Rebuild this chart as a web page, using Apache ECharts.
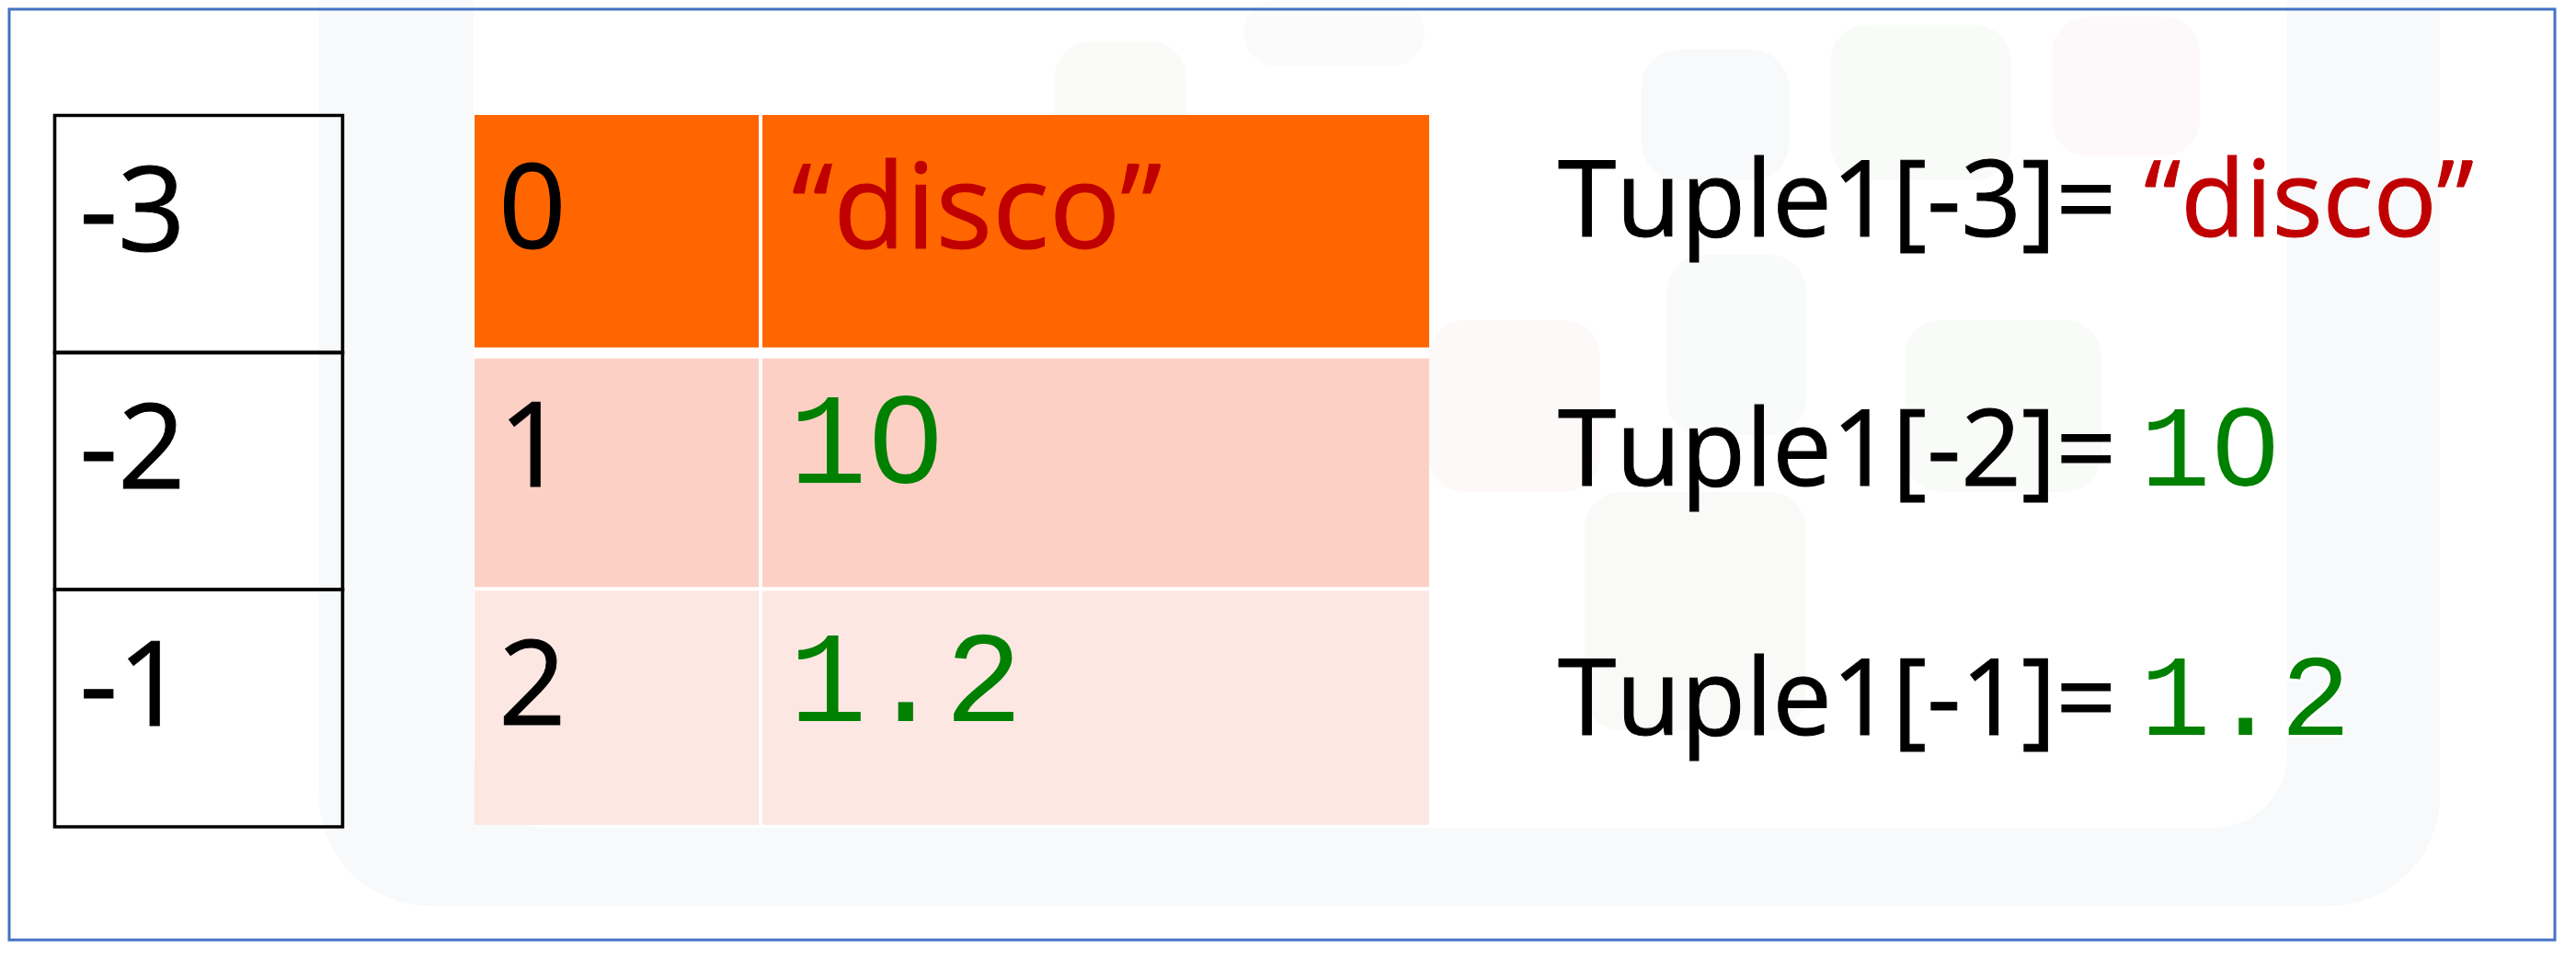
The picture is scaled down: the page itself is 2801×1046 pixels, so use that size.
<!DOCTYPE html>
<html><head><meta charset="utf-8">
<script src="https://cdn.jsdelivr.net/npm/echarts@6/dist/echarts.min.js"></script>
<style>html,body{margin:0;padding:0;background:#fff}#c{width:2801px;height:1046px}</style>
</head><body><div id="c"></div>
<script>
// ---- data ----
const negativeIndex = ['-3', '-2', '-1'];
const positiveIndex = ['0', '1', '2'];
const tupleValues = ['“disco”', '10', '1.2'];
const valueTypes = ['string', 'number', 'number'];
const exprLabels = ['Tuple1[-3]= ', 'Tuple1[-2]= ', 'Tuple1[-1]= '];
const rowKeys = ['row0', 'row1', 'row2'];

// ---- styles ----
const SANS = '"Open Sans", Lato, sans-serif';
const MONO = '"Liberation Mono", "DejaVu Sans Mono", monospace';
const ROW_FILLS = ['#FF6600', '#FDD0C5', '#FDE7E3'];
const INSET_TOP = [2, 8, 2], INSET_BOTTOM = [4, 2, 2];
const RED = '#C00000', GREEN = '#008000';
const L_SANS = 129, L_MONO = 141, R_SANS = 115, R_MONO = 127;

const mctx = document.createElement('canvas').getContext('2d');
function baseOffset(size, fam) {
  mctx.font = size + 'px ' + fam;
  mctx.textBaseline = 'alphabetic';
  const a = mctx.measureText('0').actualBoundingBoxDescent;
  mctx.textBaseline = 'middle';
  const m = mctx.measureText('0').actualBoundingBoxDescent;
  return m - a;
}
function metrics(t, size, fam) {
  mctx.font = size + 'px ' + fam;
  mctx.textBaseline = 'alphabetic';
  return mctx.measureText(t);
}
function midY(baseline, size, fam) { return baseline - baseOffset(size, fam); }

function band(api, i) {
  const c = api.coord([0, i]);
  const s = api.size([0, i]);
  return { x: c[0] - s[0] / 2, y: c[1] - s[1] / 2, w: s[0], h: s[1], cy: c[1] };
}
function sansText(x, baseline, size, text, color) {
  return { type: 'text', style: { x: x, y: midY(baseline, size, SANS), text: text,
    fill: color, fontSize: size, fontFamily: SANS, align: 'left', verticalAlign: 'middle',
    stroke: color, lineWidth: 1 } };
}
// Courier-like rendering: thin strokes (eroded with background colour), plain zero
function monoText(x, baseline, size, text, bg) {
  const thin = size * 0.043;
  const m0 = metrics('0', size, MONO);
  const adv = m0.width, digitH = m0.actualBoundingBoxAscent;
  const children = [{ type: 'text', style: { x: x, y: midY(baseline, size, MONO), text: text,
    fill: GREEN, fontSize: size, fontFamily: MONO, align: 'left', verticalAlign: 'middle',
    stroke: bg, lineWidth: thin } }];
  text.split('').forEach((ch, k) => {
    if (ch === '0') {
      children.push({ type: 'ellipse', shape: { cx: x + (k + 0.5) * adv, cy: baseline - digitH / 2,
        rx: size * 0.085, ry: size * 0.12 }, style: { fill: bg } });
    }
  });
  return { type: 'group', children: children };
}

function renderNeg(params, api) {
  const i = api.value(1);
  const b = band(api, i);
  return { type: 'group', children: [
    { type: 'rect', shape: { x: b.x, y: b.y, width: b.w, height: b.h },
      style: { fill: 'none', stroke: '#000', lineWidth: 3.6 } },
    sansText(b.x + 27, b.cy + 19, L_SANS, negativeIndex[i], '#000')
  ]};
}
function cellBg(b, i) {
  return { type: 'rect', shape: { x: b.x + 2, y: b.y + INSET_TOP[i], width: b.w - 4, height: b.h - INSET_TOP[i] - INSET_BOTTOM[i] },
    style: { fill: ROW_FILLS[i] } };
}
function renderPos(params, api) {
  const i = api.value(1);
  const b = band(api, i);
  return { type: 'group', children: [
    cellBg(b, i),
    sansText(b.x + 28, b.cy + 18, L_SANS, positiveIndex[i], '#000')
  ]};
}
function renderVal(params, api) {
  const i = api.value(1);
  const b = band(api, i);
  const isStr = valueTypes[i] === 'string';
  return { type: 'group', children: [
    cellBg(b, i),
    isStr ? sansText(b.x + 34, b.cy + 18, L_SANS, tupleValues[i], RED)
          : monoText(b.x + 31, b.cy + 14, L_MONO, tupleValues[i], ROW_FILLS[i])
  ]};
}
function renderExpr(params, api) {
  const i = api.value(1);
  const b = band(api, i);
  const isStr = valueTypes[i] === 'string';
  const w = metrics(exprLabels[i], R_SANS, SANS).width;
  const base = b.cy;
  return { type: 'group', children: [
    sansText(b.x, base, R_SANS, exprLabels[i], '#000'),
    isStr ? sansText(b.x + w, base, R_SANS, tupleValues[i], RED)
          : monoText(b.x + w - 4, base, R_MONO, tupleValues[i], '#FFFFFF')
  ]};
}

const grids = [
  { left: 59.5, top: 125.5, width: 313, height: 773.5 },
  { left: 514, top: 123, width: 313, height: 776 },
  { left: 827, top: 123, width: 729, height: 776 },
  { left: 1694, top: 121, width: 1000, height: 813 }
];
const renders = [renderNeg, renderPos, renderVal, renderExpr];
const xAxes = grids.map((g, k) => ({ type: 'category', gridIndex: k, data: ['col'], show: false }));
const yAxes = grids.map((g, k) => ({ type: 'category', gridIndex: k, data: rowKeys, inverse: true, show: false }));
const series = grids.map((g, k) => ({
  type: 'custom', xAxisIndex: k, yAxisIndex: k, coordinateSystem: 'cartesian2d',
  renderItem: renders[k], data: rowKeys.map((r, i) => [0, i]), z: 5, silent: true
}));

// faint background watermark (decoration)
function node(x, y, w, h, c) { return { type: 'rect', z: -8, silent: true, shape: { x: x, y: y, width: w, height: h, r: 40 }, style: { fill: c } }; }
const chart = echarts.init(document.getElementById('c'), null, { renderer: 'canvas', width: 2801, height: 1046 });
chart.setOption({
  animation: false,
  backgroundColor: '#ffffff',
  grid: grids.map(g => Object.assign({ containLabel: false, show: false }, g)),
  xAxis: xAxes,
  yAxis: yAxes,
  graphic: [
    { type: 'rect', z: -10, silent: true, shape: { x: 347, y: -20, width: 2306, height: 1005, r: [0, 0, 120, 120] }, style: { fill: '#F8F9FB' } },
    { type: 'rect', z: -9, silent: true, shape: { x: 515, y: -20, width: 1972, height: 920, r: [0, 0, 80, 80] }, style: { fill: '#FFFFFF' } },
    node(1146, 45, 144, 135, '#FAFBF9'),
    node(1352, 0, 197, 72, '#FAFBFA'),
    node(1785, 54, 160, 142, '#F8F9FB'),
    node(1990, 27, 197, 169, '#F9FBF8'),
    node(2231, 18, 161, 152, '#FDF9FA'),
    node(1553, 348, 187, 187, '#FDF9F9'),
    node(1812, 277, 152, 196, '#F9FAFA'),
    node(2071, 348, 214, 187, '#F9FBF8'),
    node(1723, 535, 241, 259, '#F9FAF8'),
    { type: 'rect', z: 20, silent: true, shape: { x: 10, y: 10, width: 2768, height: 1012 }, style: { fill: 'none', stroke: '#4472C4', lineWidth: 3 } }
  ],
  series: series
});
</script>
</body></html>
